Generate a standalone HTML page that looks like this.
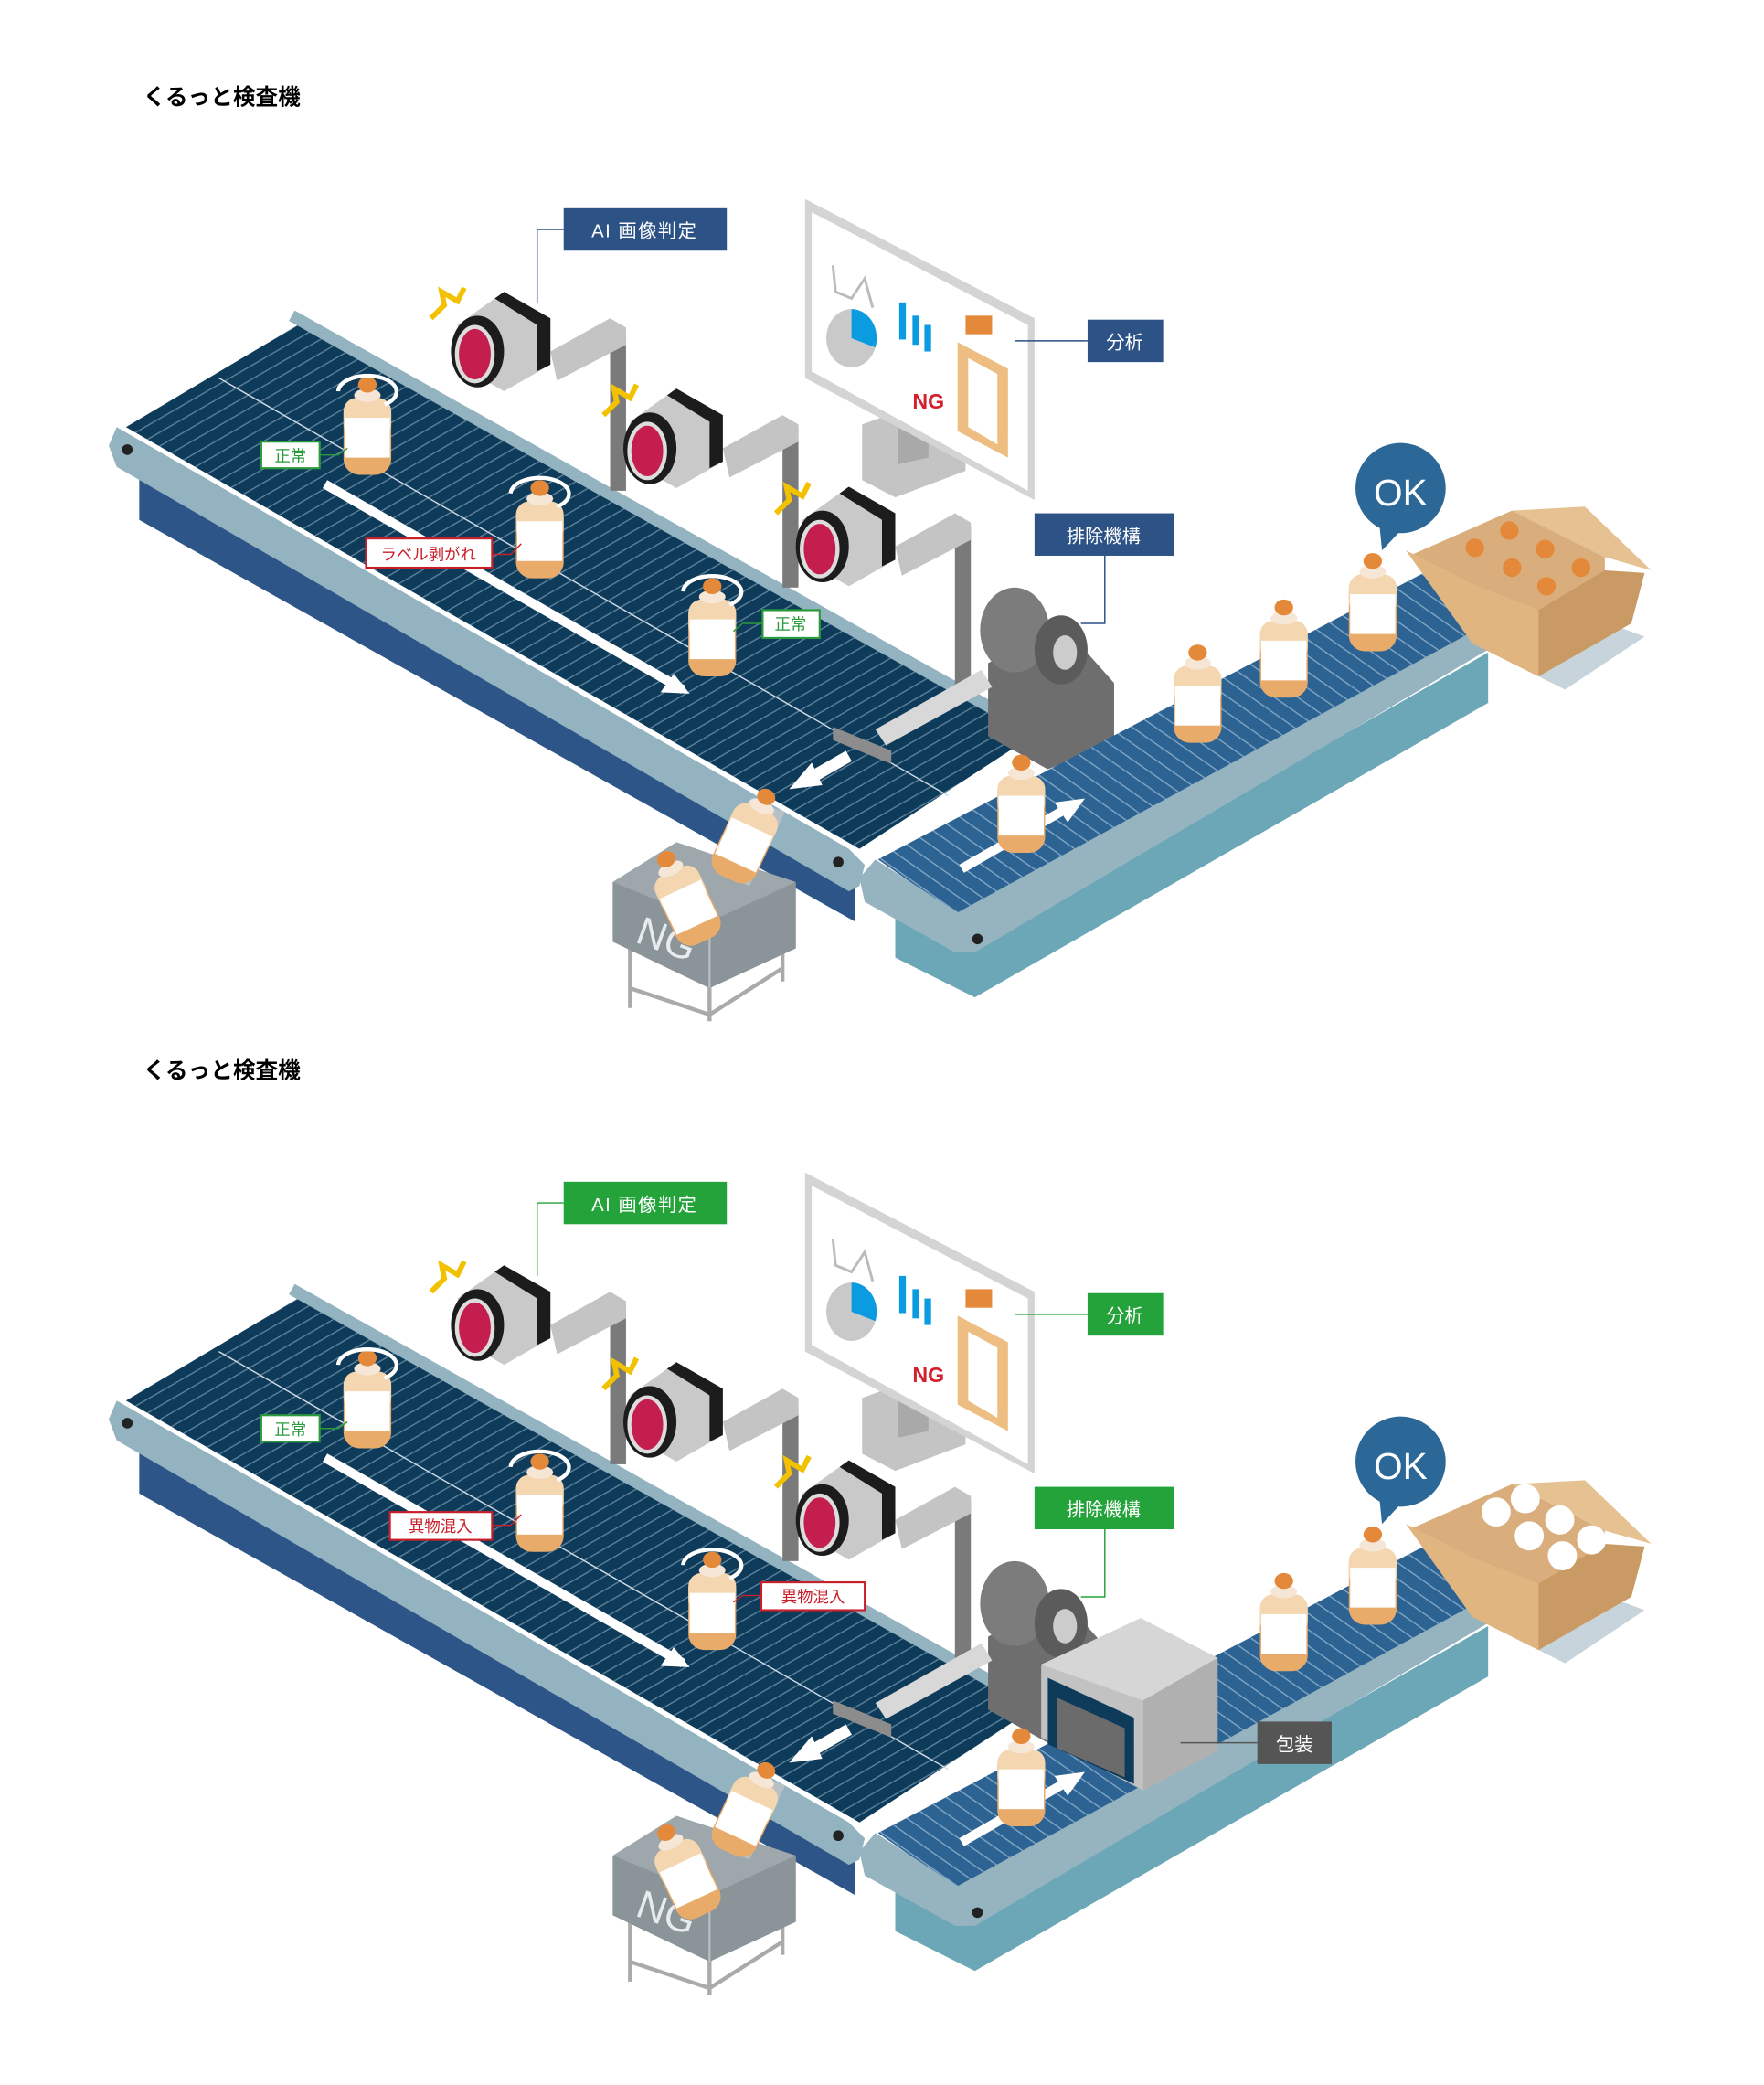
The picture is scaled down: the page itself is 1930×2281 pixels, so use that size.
<!DOCTYPE html>
<html><head><meta charset="utf-8"><style>
html,body{margin:0;padding:0;background:#fff;}
svg{display:block;}
text{font-family:"Liberation Sans","Noto Sans CJK JP",sans-serif;}
</style></head><body>
<svg width="1930" height="2281" viewBox="0 0 1330 1572" preserveAspectRatio="none" xmlns="http://www.w3.org/2000/svg">
<defs>
<pattern id="st1" width="9" height="9" patternUnits="userSpaceOnUse" patternTransform="rotate(60)">
<rect width="9" height="9" fill="#0e3b5a"/><rect width="1" height="9" fill="#5a7f99"/></pattern>
<pattern id="st2" width="10" height="10" patternUnits="userSpaceOnUse" patternTransform="rotate(-55)">
<rect width="10" height="10" fill="#2c6393"/><rect width="1" height="10" fill="#7fa3c2"/></pattern>
<g id="bottle">
<rect x="-18" y="-20" width="36" height="58" rx="12" fill="#e8ab6a"/>
<rect x="-18" y="-20" width="36" height="30" rx="10" fill="#f4d6b0"/>
<rect x="-17" y="-5" width="34" height="30" fill="#fff"/>
<ellipse cx="0" cy="-22" rx="10" ry="5" fill="#f6e6d6"/>
<ellipse cx="0" cy="-30" rx="7" ry="6" fill="#e4893a"/>
</g>
<g id="cam">
<rect x="115" y="25" width="12" height="120" fill="#7a7a7a"/>
<path d="M70,40 L115,15 L127,22 L127,35 L75,62Z" fill="#c4c4c4"/>
<path d="M0,20 L35,-5 L70,15 L70,50 L35,70 L0,50Z" fill="#c9c9c9"/>
<path d="M35,-5 L70,15 L70,50 L60,55 L60,20 L28,0Z" fill="#1c1c1c"/>
<ellipse cx="15" cy="40" rx="20" ry="27" fill="#1c1c1c"/>
<ellipse cx="13" cy="42" rx="15" ry="22" fill="#ddd"/>
<ellipse cx="13" cy="42" rx="12" ry="19" fill="#c41e4e"/>
<path d="M-20,15 L-10,5 L-12,-5 L0,2 L5,-8" stroke="#f2c200" stroke-width="4" fill="none"/>
</g>
</defs>

<text x="108" y="79" font-size="17" font-weight="bold" fill="#000">くるっと検査機</text>
<text x="108" y="813" font-size="17" font-weight="bold" fill="#000">くるっと検査機</text>

<g id="scene">
<path d="M650,320 L705,300 L728,312 L728,355 L675,375 L650,362Z" fill="#c4c4c4"/>
<path d="M677,300 L700,288 L700,345 L677,350Z" fill="#a9a9a9"/>
<path d="M607,150 L780,240 L780,377 L607,285Z" fill="#d4d4d4"/>
<path d="M612,160 L775,245 L775,370 L612,280Z" fill="#fff"/>
<ellipse cx="642" cy="255" rx="19" ry="22" fill="#c9c9c9"/>
<path d="M642,255 L642,233 A19,22 0 0 1 660,262Z" fill="#0a9be0"/>
<path d="M628,200 L630,220 L642,225 L652,210 L658,232" stroke="#bbb" stroke-width="2" fill="none"/>
<rect x="678" y="228" width="5" height="28" fill="#0a9be0"/><rect x="688" y="238" width="5" height="22" fill="#0a9be0"/><rect x="697" y="245" width="5" height="20" fill="#0a9be0"/>
<path d="M722,258 L760,278 L760,345 L722,325Z" fill="#edbd82"/>
<path d="M730,270 L752,282 L752,335 L730,322Z" fill="#fff"/>
<rect x="728" y="238" width="20" height="14" fill="#e4893a"/>
<text x="688" y="308" font-size="16" font-weight="bold" fill="#d3202f">NG</text>
<path d="M105,350 L645,663 L645,695 L105,392Z" fill="#2d5587"/>
<path d="M228,243 L778,555 L648,640 L95,322Z" fill="url(#st1)"/>
<path d="M88,322 L640,640 L652,652 L648,668 L640,672 L88,352 L82,336Z" fill="#93b3c0"/>
<path d="M220,238 L780,552" stroke="#93b3c0" stroke-width="9"/>
<circle cx="96" cy="339" r="4" fill="#222"/><circle cx="632" cy="650" r="4" fill="#222"/>
<path d="M165,285 L715,600" stroke="#cfdbe6" stroke-width="1"/>
<path d="M245,365 L515,520" stroke="#fff" stroke-width="7"/><path d="M520,523 L498,522 L508,508Z" fill="#fff"/>
<path d="M640,570 L605,590" stroke="#fff" stroke-width="9"/><path d="M595,595 L612,575 L620,592Z" fill="#fff"/>
<use href="#cam" x="345" y="225"/>
<use href="#cam" x="475" y="298"/>
<use href="#cam" x="605" y="372"/>
<path d="M745,500 L800,470 L840,515 L840,560 L790,580 L745,555Z" fill="#6e6e6e"/>
<ellipse cx="765" cy="475" rx="26" ry="32" fill="#7c7c7c"/>
<ellipse cx="800" cy="490" rx="20" ry="26" fill="#5b5b5b"/><ellipse cx="803" cy="492" rx="9" ry="13" fill="#ccc"/>
<path d="M740,505 L660,550 L668,562 L748,518Z" fill="#d8d8d8"/>
<path d="M628,548 L672,566 L672,576 L628,558Z" fill="#8c8c8c"/>
<path d="M675,682 L735,712 L1122,492 L1122,530 L735,752 L675,722Z" fill="#6ba7b7"/>
<path d="M662,648 L1100,418 L1140,462 L722,690Z" fill="url(#st2)"/>
<path d="M648,662 L660,648 L722,688 L1140,460 L1147,475 L735,718 L720,718 L652,680Z" fill="#95b4c0"/>
<circle cx="1131" cy="481" r="4" fill="#222"/><circle cx="737" cy="708" r="4" fill="#222"/>
<path d="M725,655 L800,612" stroke="#fff" stroke-width="7"/><path d="M818,602 L795,605 L805,620Z" fill="#fff"/>
<path d="M475,710 L475,760 M590,700 L590,740 M535,740 L535,770 M475,745 L535,765 L590,730" stroke="#aaa" stroke-width="3" fill="none"/>
<path d="M462,665 L510,635 L600,665 L600,715 L535,745 L462,710Z" fill="#9ea7ab"/>
<path d="M462,665 L535,695 L600,665 L600,715 L535,745 L462,710Z" fill="#8a9499"/>
<path d="M535,695 L535,745" stroke="#b8c0c4" stroke-width="1.5"/>
<text x="478" y="710" font-size="30" fill="#e8ecee" transform="rotate(20 478 710)">NG</text>
<path d="M545,660 L570,605 L592,612 L565,668Z" fill="#b8c0c4"/>
<path d="M1140,500 L1180,520 L1240,480 L1200,465Z" fill="#c7d4dc"/>
<path d="M1065,418 L1140,385 L1210,420 L1210,480 L1160,510 L1110,485Z" fill="#d9ae7c"/>
<path d="M1140,385 L1195,382 L1245,430 L1210,420Z" fill="#e6c292"/>
<path d="M1160,460 L1210,430 L1240,432 L1230,470 L1160,510Z" fill="#c99a64"/>
<path d="M1060,415 L1110,440 L1160,460 L1160,510 L1110,485Z" fill="#e0b580"/>
<circle cx="1056" cy="368" r="34" fill="#2b6898"/><path d="M1040,395 L1042,415 L1058,398Z" fill="#2b6898"/>
<text x="1056" y="381" font-size="28" fill="#fff" text-anchor="middle">OK</text>
</g>

<g>
<use href="#bottle" x="277" y="320"/><use href="#bottle" x="407" y="398"/><use href="#bottle" x="537" y="472"/>
<path d="M255,295 A22,12 0 1 1 290,305" stroke="#fff" stroke-width="3" fill="none"/>
<path d="M385,372 A22,12 0 1 1 420,382" stroke="#fff" stroke-width="3" fill="none"/>
<path d="M515,446 A22,12 0 1 1 550,456" stroke="#fff" stroke-width="3" fill="none"/>
<use href="#bottle" x="770" y="605"/><use href="#bottle" x="903" y="522"/><use href="#bottle" x="968" y="488"/><use href="#bottle" x="1035" y="453"/>
<use href="#bottle" x="565" y="628" transform="rotate(25 565 628)"/><use href="#bottle" x="515" y="675" transform="rotate(-25 515 675)"/>
<g fill="#e4893a"><circle cx="1112" cy="413" r="7"/><circle cx="1138" cy="400" r="7"/><circle cx="1140" cy="428" r="7"/><circle cx="1165" cy="414" r="7"/><circle cx="1166" cy="442" r="7"/><circle cx="1192" cy="428" r="7"/></g>
</g>

<path d="M425,173 L405,173 L405,228" stroke="#2b4f80" fill="none"/>
<rect x="425" y="157" width="123" height="32" fill="#2d5386"/>
<text x="486" y="179" font-size="14" fill="#fff" text-anchor="middle" letter-spacing="1">AI 画像判定</text>
<path d="M820,257 L765,257" stroke="#2b4f80"/>
<rect x="820" y="241" width="57" height="32" fill="#2d5386"/>
<text x="848" y="263" font-size="14" fill="#fff" text-anchor="middle">分析</text>
<path d="M833,419 L833,470 L815,470" stroke="#2b4f80" fill="none"/>
<rect x="780" y="387" width="105" height="32" fill="#2d5386"/>
<text x="832" y="409" font-size="14" fill="#fff" text-anchor="middle">排除機構</text>
<path d="M241,343 L255,343 L262,338" stroke="#2a9a3a" fill="none"/>
<rect x="197" y="333" width="44" height="20" fill="#fff" stroke="#2a9a3a" stroke-width="1.5"/>
<text x="219" y="348" font-size="12" fill="#2a9a3a" text-anchor="middle">正常</text>
<path d="M371,418 L385,418 L393,410" stroke="#c8202a" fill="none"/>
<rect x="276" y="406" width="95" height="22" fill="#fff" stroke="#c8202a" stroke-width="1.5"/>
<text x="323" y="422" font-size="12" fill="#c8202a" text-anchor="middle">ラベル剥がれ</text>
<path d="M575,470 L560,470 L553,476" stroke="#2a9a3a" fill="none"/>
<rect x="575" y="460" width="43" height="21" fill="#fff" stroke="#2a9a3a" stroke-width="1.5"/>
<text x="596" y="475" font-size="12" fill="#2a9a3a" text-anchor="middle">正常</text>

<use href="#scene" y="734"/>
<g>
<use href="#bottle" x="277" y="1054"/><use href="#bottle" x="407" y="1132"/><use href="#bottle" x="537" y="1206"/>
<path d="M255,1029 A22,12 0 1 1 290,1039" stroke="#fff" stroke-width="3" fill="none"/>
<path d="M385,1106 A22,12 0 1 1 420,1116" stroke="#fff" stroke-width="3" fill="none"/>
<path d="M515,1180 A22,12 0 1 1 550,1190" stroke="#fff" stroke-width="3" fill="none"/>
<use href="#bottle" x="770" y="1339"/><use href="#bottle" x="968" y="1222"/><use href="#bottle" x="1035" y="1187"/>
<use href="#bottle" x="565" y="1362" transform="rotate(25 565 1362)"/><use href="#bottle" x="515" y="1409" transform="rotate(-25 515 1409)"/>
<path d="M785,1255 L860,1220 L918,1250 L918,1320 L862,1350 L785,1310Z" fill="#c2c2c2"/>
<path d="M785,1255 L860,1220 L918,1250 L862,1282Z" fill="#d6d6d6"/>
<path d="M862,1282 L918,1250 L918,1320 L862,1350Z" fill="#b0b0b0"/>
<path d="M790,1265 L855,1295 L855,1345 L790,1315Z" fill="#0e3b5a"/>
<path d="M797,1280 L848,1303 L848,1340 L797,1318Z" fill="#6b6b6b"/>
<g fill="#fff"><circle cx="1128" cy="1140" r="11"/><circle cx="1150" cy="1130" r="11"/><circle cx="1153" cy="1158" r="11"/><circle cx="1176" cy="1146" r="11"/><circle cx="1178" cy="1173" r="11"/><circle cx="1200" cy="1161" r="11"/></g>
</g>

<path d="M425,907 L405,907 L405,962" stroke="#23a33a" fill="none"/>
<rect x="425" y="891" width="123" height="32" fill="#23a33a"/>
<text x="486" y="913" font-size="14" fill="#fff" text-anchor="middle" letter-spacing="1">AI 画像判定</text>
<path d="M820,991 L765,991" stroke="#23a33a"/>
<rect x="820" y="975" width="57" height="32" fill="#23a33a"/>
<text x="848" y="997" font-size="14" fill="#fff" text-anchor="middle">分析</text>
<path d="M833,1153 L833,1204 L815,1204" stroke="#23a33a" fill="none"/>
<rect x="780" y="1121" width="105" height="32" fill="#23a33a"/>
<text x="832" y="1143" font-size="14" fill="#fff" text-anchor="middle">排除機構</text>
<path d="M241,1077 L255,1077 L262,1072" stroke="#2a9a3a" fill="none"/>
<rect x="197" y="1067" width="44" height="20" fill="#fff" stroke="#2a9a3a" stroke-width="1.5"/>
<text x="219" y="1082" font-size="12" fill="#2a9a3a" text-anchor="middle">正常</text>
<path d="M371,1150 L385,1150 L393,1142" stroke="#c8202a" fill="none"/>
<rect x="294" y="1140" width="77" height="21" fill="#fff" stroke="#c8202a" stroke-width="1.5"/>
<text x="332" y="1155" font-size="12" fill="#c8202a" text-anchor="middle">異物混入</text>
<path d="M574,1203 L560,1203 L553,1208" stroke="#c8202a" fill="none"/>
<rect x="574" y="1193" width="78" height="21" fill="#fff" stroke="#c8202a" stroke-width="1.5"/>
<text x="613" y="1208" font-size="12" fill="#c8202a" text-anchor="middle">異物混入</text>
<path d="M948,1314 L890,1314" stroke="#555"/>
<rect x="948" y="1298" width="56" height="32" fill="#555"/>
<text x="976" y="1320" font-size="14" fill="#fff" text-anchor="middle">包装</text>
</svg>
</body></html>
